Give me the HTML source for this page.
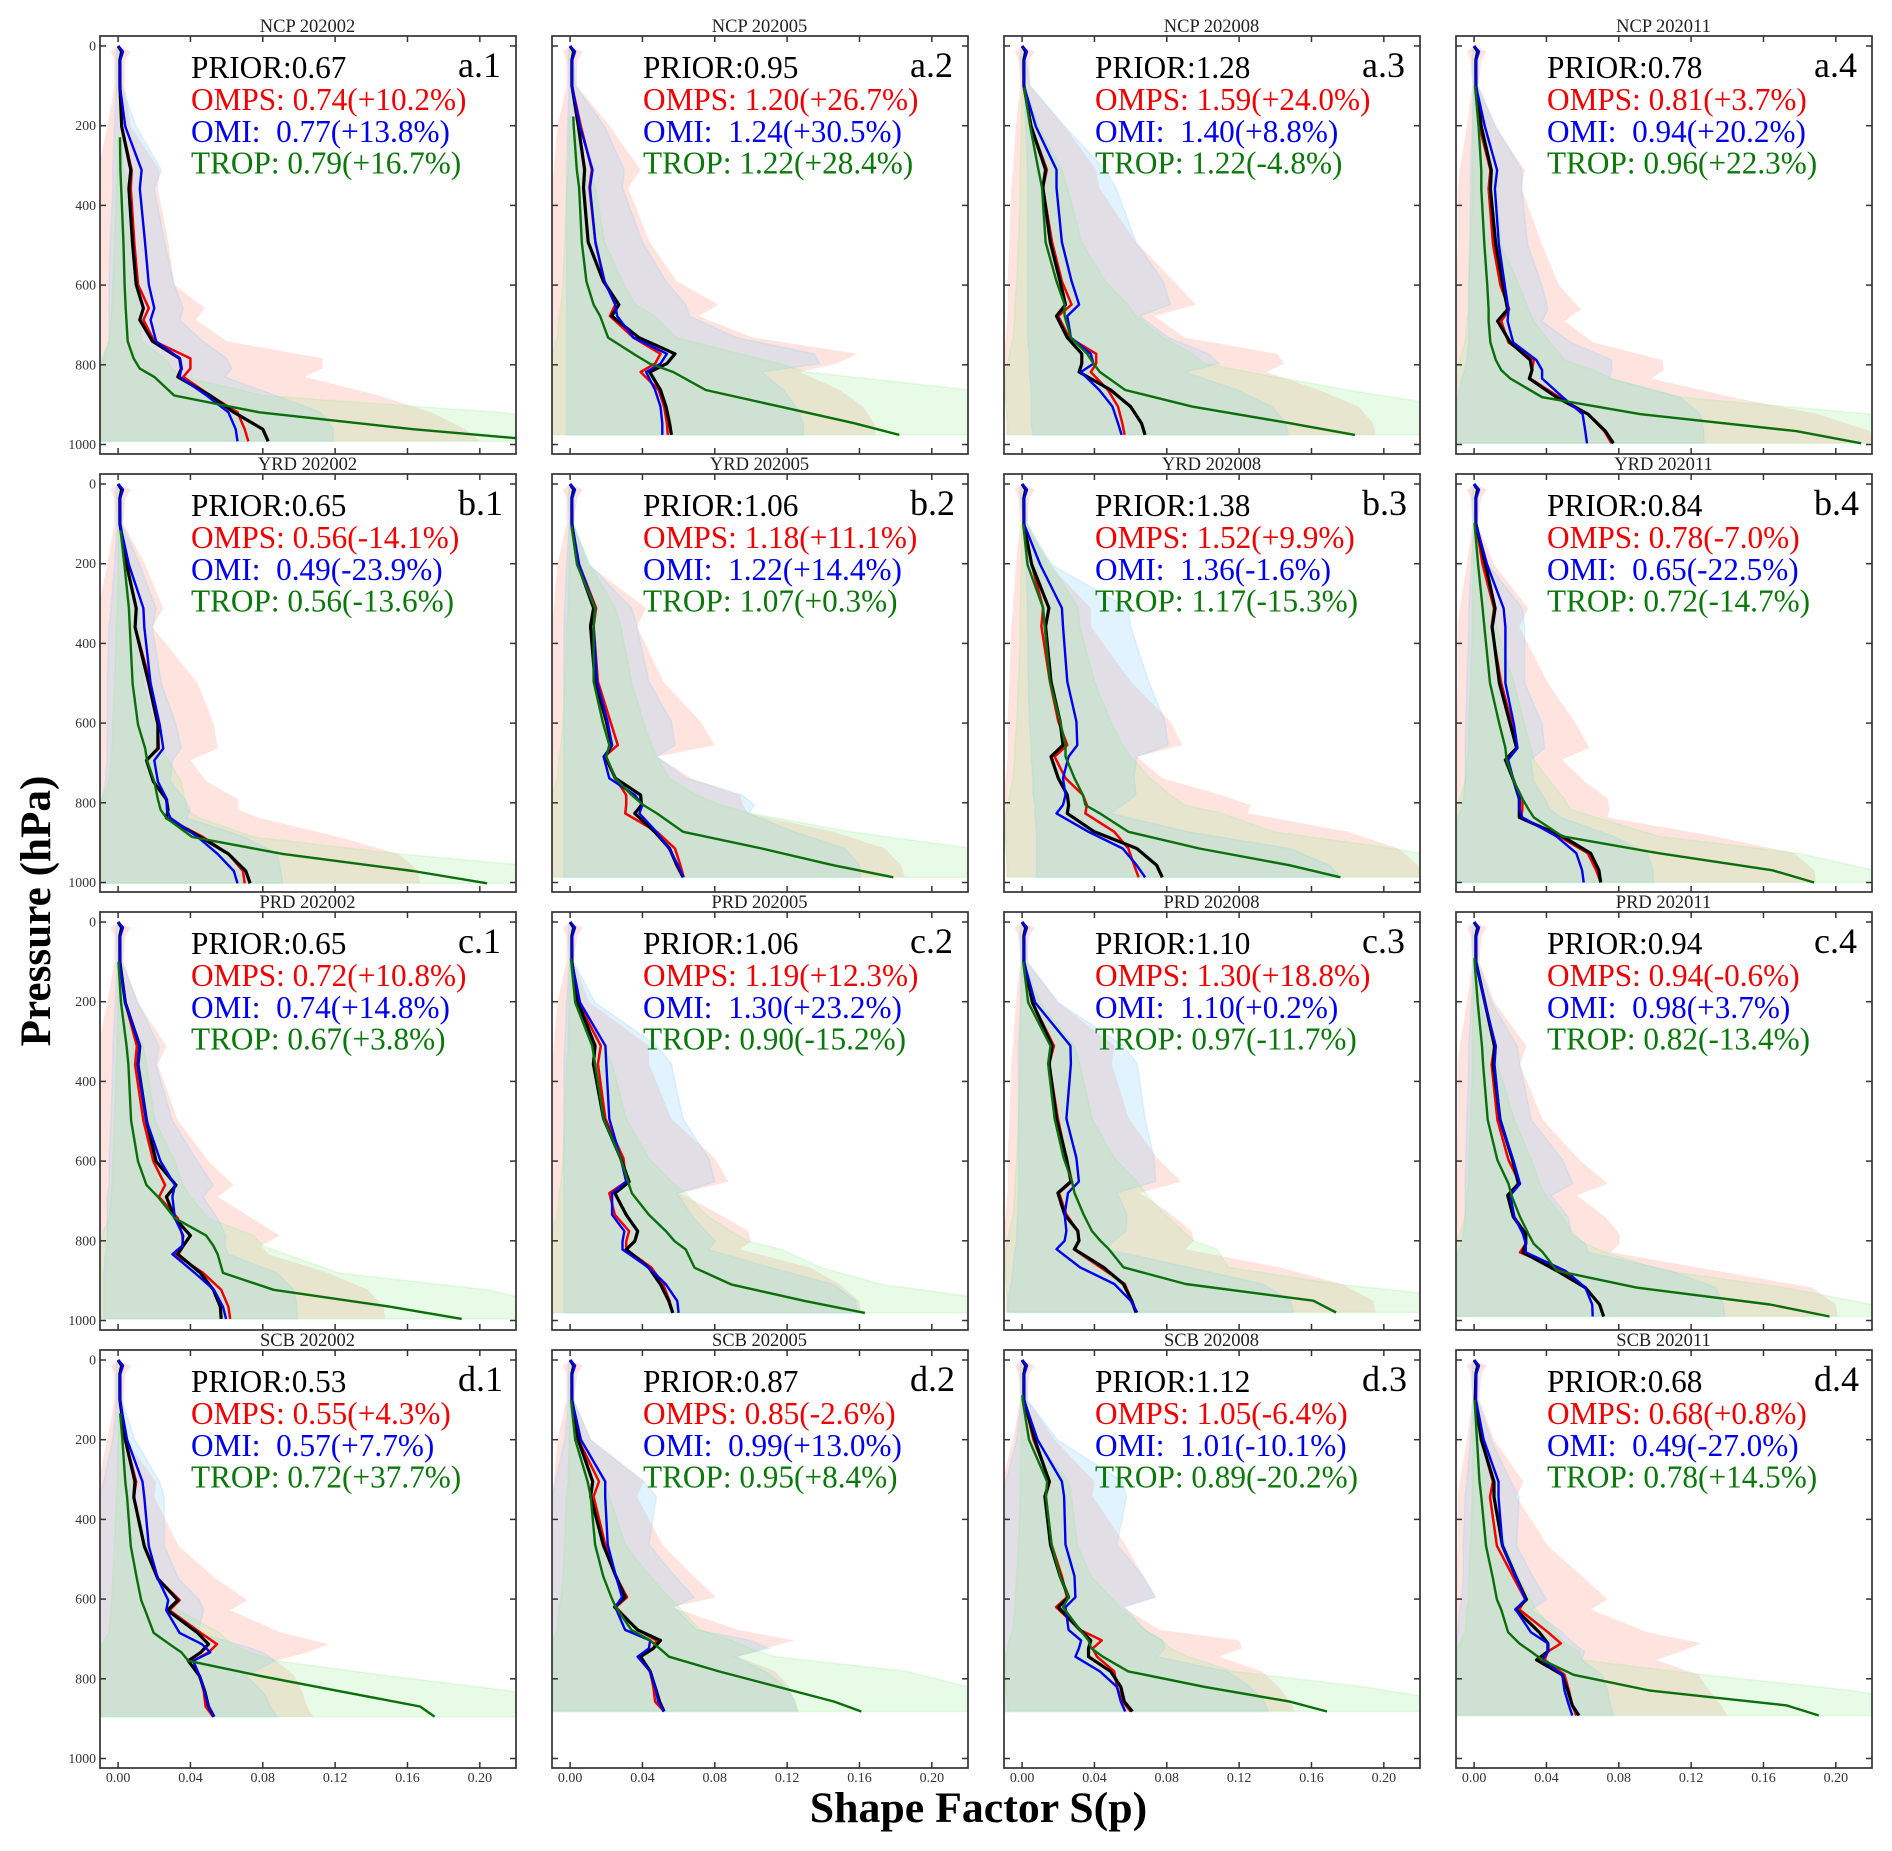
<!DOCTYPE html>
<html lang="en">
<head>
<meta charset="utf-8">
<title>Shape Factor Profiles</title>
<style>
html,body{margin:0;padding:0;background:#fff;}
body{width:1892px;height:1851px;overflow:hidden;}
svg{display:block;}
text{font-family:"Liberation Serif",serif;white-space:pre;}
</style>
</head>
<body>
<svg id="chart" xmlns="http://www.w3.org/2000/svg" width="1892" height="1851" viewBox="0 0 1892 1851">
<text transform="translate(50,911) rotate(-90)" text-anchor="middle" font-size="43.2" font-weight="700" fill="#000">Pressure (hPa)</text>
<text x="978.5" y="1822" text-anchor="middle" font-size="43.8" font-weight="700" fill="#000">Shape Factor S(p)</text>
</svg>
<script>
// Panel descriptors (rows a-d, columns 1-4)
const regions = ["NCP","YRD","PRD","SCB"];
const rowLetters = ["a","b","c","d"];
const months = ["202002","202005","202008","202011"];
const priorLabels = ["0.67","0.95","1.28","0.78","0.65","1.06","1.38","0.84","0.65","1.06","1.10","0.94","0.53","0.87","1.12","0.68"];
const ompsLabels = ["0.74(+10.2%)","1.20(+26.7%)","1.59(+24.0%)","0.81(+3.7%)","0.56(-14.1%)","1.18(+11.1%)","1.52(+9.9%)","0.78(-7.0%)","0.72(+10.8%)","1.19(+12.3%)","1.30(+18.8%)","0.94(-0.6%)","0.55(+4.3%)","0.85(-2.6%)","1.05(-6.4%)","0.68(+0.8%)"];
const omiLabels = ["0.77(+13.8%)","1.24(+30.5%)","1.40(+8.8%)","0.94(+20.2%)","0.49(-23.9%)","1.22(+14.4%)","1.36(-1.6%)","0.65(-22.5%)","0.74(+14.8%)","1.30(+23.2%)","1.10(+0.2%)","0.98(+3.7%)","0.57(+7.7%)","0.99(+13.0%)","1.01(-10.1%)","0.49(-27.0%)"];
const tropLabels = ["0.79(+16.7%)","1.22(+28.4%)","1.22(-4.8%)","0.96(+22.3%)","0.56(-13.6%)","1.07(+0.3%)","1.17(-15.3%)","0.72(-14.7%)","0.67(+3.8%)","0.90(-15.2%)","0.97(-11.7%)","0.82(-13.4%)","0.72(+37.7%)","0.95(+8.4%)","0.89(-20.2%)","0.78(+14.5%)"];

// Axis ticks
const xTicks = [0,0.04,0.08,0.12,0.16,0.20];
const xTickLabels = ["0.00","0.04","0.08","0.12","0.16","0.20"];
const yTicks = [0,200,400,600,800,1000];

// Hybrid vertical levels: p = hybridA + hybridB * surface pressure
const hybridA = [0,14,35,100,182.3,251.9,219,189.7,92.7,92.6,82.1,165.7,59.9,35.7,56.7,14,26.5,19.3,0];
const hybridB = [0,0,0,0,.02,.06,.14,.31,.51,.57,.61,.58,.73,.78,.78,.87,.90,.95,1];
const surfacePressure = [992,976,976,997,1002,987,987,1000,996,981,980,990,895,882,882,892];
const tropTop = [229,177,104,100,117,104,100,98,100,92,100,90,134,100,88,100];

// Values in units of 0.001, first three levels shared
const topLine = [0,2,1];
const topLineBlue = [0,2.7,1.2];
const topRedUp = [0,7,4];
const topRedLow = [0,-4,-2];
const topBlueUp = [0,3,2];
const topBlueLow = [0,-1,-1];

const blackProfiles = [
[1,2,7,6,8,10,14,12,19,34,35,33,51,64,80,83],
[1,4.6,8,7.4,10,18.4,27,23,38,58,53.5,44,50,53,55,56],
[1,5,13,11.5,15.6,21,24,19,25,33,33,31.5,49,60,66,68],
[1,4,9.5,9,12,16,18.5,13,20,31,32,30.5,45.5,63,72.6,77],
[1,4.7,10,9.4,17,22,22,15.7,19.5,26.7,27.6,26.7,45.5,61,70.6,73],
[1,4.4,13,11.3,13.8,20,23,19.5,25,39,39.5,35.8,46.8,55,59,62.5],
[1,5.3,14.8,13,16,21,22.6,16,20,25,25.7,25,40,63.4,74.4,77.5],
[1,6.3,11.6,10,14,20,23.5,17.3,22,25,25,25,48.7,64.4,69,70],
[1,4,12,11,15.7,21,32,26.7,31.4,40,36,33,45.5,52.7,56.5,57],
[1,4.4,13.8,12.9,18.5,28,32.6,24.8,31,37.4,35.8,31,43.6,50,54.6,56.8],
[1,5.7,16.6,15,19,24.5,27,19.8,23.5,30.8,31.4,29,45,56,60.6,63],
[1,6,11.3,10.7,14.4,21.3,24.5,18.5,21.7,28.6,28.6,27,45.8,61.5,69.4,71.6],
[1,4,9.3,8.7,14.5,22,33,27.3,44,50,45.7,38.8,45,48,50,53],
[1,4.5,12.5,11.4,18.3,25.3,30.4,24.6,37.4,50,46,39,44.3,47,49.5,52],
[1,7,15,12.6,15.7,21,25.7,20,32,38,36.7,36.7,49,54.6,56.5,61],
[.6,4,11,11,15.7,23.5,29,23,36,40.8,40.8,34.5,48.7,51.8,54.3,58]
];
const redProfiles = [
[1,2,7.5,7,9,11,17,14,20,40,40,36,51,66,70,72],
[1,6,12,10.7,14,19,25,22,35,50,47,39,49,52,53.5,54],
[1,5,13.7,11.5,16.6,22,27.4,20,26,41,41,38,47.5,53,55.4,56.7],
[1,3,9,8,10.5,14.6,19.4,15,19,33,32,31,47,63,72,76],
[1,4.7,10,9.4,18,22,22.5,15.7,19.5,26.7,27.6,26.7,47,61,69,70],
[1,5,14.4,13,15.4,22.3,26.4,19,25,31,31,30.5,48,58,61,62.8],
[1,5.3,11.6,10.7,15.4,20,25,18,24,33.6,35.8,35,51,58.7,62,64.4],
[1,4.7,11,9.7,15,21,23.5,17.3,22,26.7,26.7,26,47,62.8,67.5,70],
[1,4,10.4,9.4,14,19.5,26,22.6,33,35.5,36,31.4,47,57,61,62],
[1,4.4,17,15.4,19.5,29.5,31,21.7,24.8,32.6,31,31,45,51.5,55,56.8],
[1,5.7,17.6,15,19.8,24.5,27.6,20.4,24.5,30.8,31.7,28.6,43.3,56.8,60.6,63],
[1,6,11.3,9.7,12.9,19,25.4,19,22.3,28.6,28.6,25.4,49,61.5,69.4,71.6],
[1,4,10,8.7,14.5,22,34,28.4,45.7,54.7,50,41.5,45,47.4,48.4,52.6],
[1,4.5,16,13,19.4,25.3,31.5,25.3,37.4,47.8,46,37.4,44.3,46,47,52],
[1,6.3,15.4,13,16.3,22,24.8,18.8,32,44,39,41.4,50.9,52.4,55.6,60],
[1,4,10.4,8.8,12.6,22,28.3,25,40.8,48,40.8,39,50,52.4,54.3,56.5]
];
const blueProfiles = [
[1,4,13,12,15,17,20,18,21,34,35,34,49,61,65,66],
[1,5.5,12.4,11,14,19,25,26,35,53.5,50,42,47,50,51,51],
[1,7.6,19,19,22,27.4,31.5,25,27,38,39.5,32.5,42.7,50,53,55],
[1,6,12.7,11.5,13.7,17,19,18.5,21.6,34.4,37.6,37.6,49,60,61.5,62.4],
[1,6,14,14.5,18,23,25,20,22,27,27,29,44,55,64,66],
[1,5,13.8,13,14.8,20.7,23.2,18.5,21.7,35.8,40,38.3,47.7,54.6,59.7,62.5],
[1,10,22,22.6,25,30,30.5,25.7,22.6,24,22.6,19,36.7,55.6,63.4,68],
[1,7.2,16.3,17.3,17.3,22,24,18.8,22,25,25,26.7,45.5,56.5,59.7,60.6],
[1,4,12,11,15.7,23.5,31.4,30,31.4,36,35.5,30,42.4,53,58,59.7],
[1,5.5,19.5,20,21.7,28,31,23.2,23.2,30,29,29,43.6,53,59.3,60],
[1,7.2,26.7,27,24.5,30,31.4,25.4,23.5,24.5,23.5,19,32,51,60,63.7],
[1,6,12,11.3,14.4,21.7,25.4,20,22.3,27,28.6,28.6,50.5,61.5,65.3,65.6],
[1,5,13.5,14.5,17,22,27.7,26.6,34,46.4,50.9,41.5,45,47.8,50,53],
[1,6,19.4,19.4,20.8,25.3,28.7,25,30.4,44.3,43.6,37.4,44.3,47,48.7,52],
[1,8.5,22,23.2,24,29,29.5,24,25.7,32.6,31.4,29.5,43,52.4,54.6,57],
[1,5.3,13.5,13.5,15.7,23.5,28.3,23,31.4,40.8,40.8,37.7,48.7,50,52.4,54.3]
];
const greenProfiles = [
[1,1,1.3,1.7,3,3.6,4.2,4.6,5.3,8.6,12,20,31,78,163,240],
[1,2,3.7,5,6.5,9,13,16.6,21,35,44,57,75,116,157,182],
[1,4.5,9,11,13,19,23.5,23.5,27,36,39.5,43,57,94,148,184],
[.5,2.5,4,4,5.7,7.3,8,8,9,12,15,20,37.6,91.7,178,214],
[1,3.5,6,6.5,8,11,15,16,20,22,23.5,26.7,41,91,163,204],
[.6,3.8,13.8,13,13,18,21.7,20,25,34,40.5,48,62.5,106,145.7,178.7],
[.6,3,11.6,12.5,15.4,21,24,24,29,33.6,35,43,58.7,98,148,176],
[.3,2.2,4.7,5.7,8.8,14,17.3,18,22,26.7,30,33,48.7,102,165,188],
[.2,1.6,4.7,5.7,7.2,11,15.7,22,31.4,48.7,52.7,55,58,86,150.7,190],
[.6,2.8,12.2,13.8,18.5,28,32,34.2,43.6,53,57.8,64,68.8,89,130,163],
[.6,3.4,15.7,14.4,18,23,27.6,29,34,38.6,43.3,48,56,90.4,161,173.6],
[.3,2,4.4,5,7.5,12.9,19,20.7,25.4,30,33,38,45.8,89.8,163.6,196.5],
[.5,2.4,4,5,7,10.4,12.8,15,19.7,28.4,35,38.8,78.5,123.5,167,175],
[.5,2.8,9.7,11.4,13.8,18.3,22.8,25.2,33.9,44.3,49.5,54.7,82.3,115,146,161],
[.3,3.8,13.8,13.2,16.3,21,25.7,22.6,32,36.7,38.3,44.6,58.7,101,148,168.6],
[.3,1.6,3,4,6.6,10.4,12.6,15,18.8,25,31.4,37.7,55,97,172.7,190.6]
];
const redUpper = [
[3.6,7,23,22,28,31,48,43,60,113,113,103,144,173,192,200],
[3.7,22,39,32,44,59,82,71,101,159,147,127,149,162,168,169],
[4.5,23.5,41,42.7,63,84,96,73,90,141,145,135,164,186,194,195.5],
[2.5,12,28,26.4,37.6,47,59,50,66,104,105,98,142.7,190,219,220],
[3,15,25,19,44,53,55,40,49,66.5,66.5,78,122,155,166,167],
[2,10,42,37,51.5,72,80,48,67,94,95.5,98.6,145.7,174,183,185],
[3,14.8,38,38,60,82,88.5,63.4,77.5,110,126,125,180,208,219,220],
[2,11,30,25,40.8,56.5,63.7,48.7,61,73.8,75,73.8,133,177,188,189],
[3,11,26.7,22,33,50,64,55,74,89.5,79,83,116,138,147,147.5],
[2,10.7,43.6,43.6,56,80,87.6,61,83,98.6,100,94,133,149,160,161],
[3,20,51,49.6,59,74.7,88,65,82.6,93.6,95,90.4,142,176.8,194,195.6],
[3,11.3,29,25.4,38,58.4,74,56.8,72.5,80.4,80.4,75.6,133.8,187,200,201],
[3,4,21,20,33.5,54,71.6,62,90.6,116.6,104.5,87.2,97.6,101.7,104.5,108],
[2,11.4,40.8,37,51,68.5,80.6,56.4,92.7,123.9,108,92.7,113.5,121,124,126.6],
[3,18,40,39,57,67,73.8,55.6,76,120,121.6,109,132.5,142,148,151],
[3,11,27.3,23.5,40.8,61,73.8,64.4,95.8,125.6,114.6,100.5,124,130,136.6,140]
];
const blueUpper = [
[2,10,24,20,26,31,36,34,47,60,63,59,87,112,119,119],
[3,19,30,29,40,53,64,66,92,135,138,106,118,125,129,129],
[4.5,23.5,46,52,63,78,82,65,81,103,109,90,119,138,146,147],
[2,12,26.4,26.4,29.6,37.6,40.8,37.6,53.5,76,76,75,114,125,127,127],
[2,12,21,19,24,32,35,30,29,37,40,38,70,88,90,91],
[2,10.7,34,37,43.6,56,58,48,64,95,102,98.6,124,152,160,160.4],
[3,16,58.7,60,70,79,80.7,63.4,62,63,55.6,49,91.7,148,170,176],
[1,7.8,26.7,28,28,37.7,39,31.4,33,39,42,48,77,95.8,99,99],
[2,11,22.6,21,30,44,52.7,47,55,59.7,59,61,88,97,99,99],
[2,13.8,48,56,62.5,76.6,80,59.3,67,75,80.4,76.6,111,145.7,158,159],
[3,20,56,63.7,68,73,73.8,52.7,58,57.5,51,46.5,92,133,148.5,150],
[2,9.7,23.9,25.4,31.7,49,54.6,42.7,52,53.7,61.5,63,108.6,133.8,137.8,138.5],
[2,9.3,23,25.6,25.6,33.5,45,47.4,44,66.4,80,87,70.6,80,84.4,88],
[2,11.4,40.8,47.8,43.6,58,68.5,57.4,70,99.6,110,91,108,118.7,124.6,125.6],
[3,19.5,55.6,57.8,52.4,67,73.8,56.5,68,77.5,79,74.4,113.7,126,134,136],
[2,9.4,20.4,25,23.5,33,40,31.4,48.7,55,61,59.7,70.6,73.8,75.4,77]
];
const greenUpper = [
[1,1,3,6,8,10,11,12,13,26,30,37,80,210,300,300],
[.6,2,9,14,19,29,36,47,59,94,116,131,221,300,300,300],
[1.9,9,22,25,33,46,58.6,63,78,94,101,125,180,237,300,300],
[1,6,10.5,12,15,25,30,33,42,50,66,76,114,219,273,273],
[1,6,11,12,14,20,24,28,35,37,38,45,75,155,260,260],
[1,10.7,25,28,34,40.5,45,48,54.6,70,83,100,155,223,260,260],
[1,16,31,32,40,49,55.6,60,71,82,90,110.5,139,205,260,260],
[1,3,11,12.5,22,28,31.4,33,42,50,53,67.5,102,179,221,260],
[1,3,14,15.7,20.4,31.4,36,40,50,75,80,92.6,122,204,245,260],
[1,4.4,18.5,23.2,31,43.6,56,64,75,89,98.6,117,139,172,240,260],
[1,10,29,32,38.6,51,63.7,68,79,88.8,95,107.7,114,173.6,260,260],
[1,3.5,10.7,13,22.3,31.7,36.4,39.6,49,55,61.5,72.5,105.5,171.4,220,260],
[1,2,7.6,9.3,16,21.5,28,33.5,56,63,73,87,149.5,220,260,260],
[1,4.5,18.3,21.8,30.4,44.3,54.7,60,72,89.3,99.6,113.5,186,220,260,260],
[1,7,25.7,27.3,30.5,38,49,54,68,77.5,82,91.7,116.8,189,240,260],
[1,4.7,11,12.6,17.3,25,31.4,34.5,45.5,50,58,59.7,127,208.8,260,260]
];

// Lower bounds: red and green per season column, with an SCB August override; blue per panel
const redLower = [
[-2,-6,-11,-11,-11,-11,-11,-11,-11,-11,-11,-11,-11,-11,-11,-11],
[-2,-7,-9,-10,-11,-11,-11,-11,-11,-11,-11,-11,-11,-11,-11,-11],
[-1,-3.5,-5,-6,-7,-8,-8,-8,-9,-10,-10,-10,-10,-9,-9,-9],
[-1,-4,-8,-9,-9,-10,-10,-10,-10,-11,-11,-11,-11,-11,-11,-11]
];
const redLowerScbAug = [-1,-5,-11,-11,-11,-11,-11,-11,-11,-11,-11,-11,-11,-11,-11,-11];
const blueLower = [
[-1,-2,-3,-3,-4.4,-5,-5,-5,-5,-8,-11,-11,-11,-11,-11,-11],
[-.5,-1.5,-2,-2,-2,-2,-2,-2,-2,-2,-2,-2,-2,-2,-2,-2],
[1,2,3,3,3,3,3,3,3,4,4,4,5,5,5,6],
[-.5,-1,-2,-2,-2.5,-3,-3,-3,-3,-4,-5,-7,-9,-11,-11,-11],
[-.5,-2,-4,-5,-6,-6,-6,-6,-7,-9,-11,-11,-11,-11,-11,-11],
[-.5,-2,-3,-3.5,-3.5,-3.5,-3.5,-3.5,-3.5,-3.5,-3.5,-3.5,-3.5,-3.5,-3.5,-3.5],
[1,2,3,3,3.5,4,5,5,6,6,7,7,8,8,8,8],
[-.5,-1.5,-3,-3,-4,-4.7,-5,-5,-5,-6,-7,-9,-11,-11,-11,-11],
[-.5,-1.5,-3,-3,-4,-5,-5,-6,-6,-6,-6.5,-7,-8,-8,-8,-8],
[-.5,-2,-3,-3.5,-3.5,-3.5,-3.5,-3.5,-3.5,-3.5,-3.5,-3.5,-3.5,-3.5,-3.5,-3.5],
[-.5,-1,-2,-2,-2,-2,-2,-2,-2.5,-3,-3,-4,-5,-6,-8,-8],
[-.5,-1.5,-3,-3,-4,-4.7,-5,-5,-5,-6,-7,-9,-11,-11,-11,-11],
[-1,-3,-8,-10,-11,-11,-11,-11,-11,-11,-11,-11,-11,-11,-11,-11],
[-1,-3,-8,-10,-11,-11,-11,-11,-11,-11,-11,-11,-11,-11,-11,-11],
[-.5,-3,-9,-11,-11,-11,-11,-11,-11,-11,-11,-11,-11,-11,-11,-11],
[-.5,-2,-4,-5,-6,-6,-7,-8,-9,-10,-11,-11,-11,-11,-11,-11]
];
const greenLower = [
[0,0,-.5,-1,-2,-3,-3.5,-4,-5,-9,-11,-11,-11,-11,-11,-11],
[0,-.5,-1,-2,-3,-4,-5,-6,-7,-10,-10.5,-11,-11,-11,-11,-11],
[0,-.5,-1,-1,-2,-3,-4,-4,-5,-7,-8,-9,-9,-9,-8,-8],
[0,-.5,-1,-1,-2,-3,-3,-4,-5,-8,-10,-11,-11,-11,-11,-11]
];

// Layout
const svgNS = "http://www.w3.org/2000/svg";
const chart = document.getElementById("chart");
const columnLefts = [100,552,1004,1456];
const rowTops = [36,474,912,1350];
const panelW = 416, panelH = 418;
function xScale(milli,left){return left+18.09+milli*1.8087;}
function yScale(p,top){return top+10+p*0.3985;}
function make(tag,attrs,parent){
  const el=document.createElementNS(svgNS,tag);
  for(const k in attrs){el.setAttribute(k,attrs[k]);}
  parent.appendChild(el);
  return el;
}
function pressures(ps){return hybridA.map((a,i)=>a+hybridB[i]*ps);}
function interp(p,ps,vals){
  for(let i=1;i<ps.length;i++){
    if(p<=ps[i]){const t=(p-ps[i-1])/(ps[i]-ps[i-1]);return vals[i-1]+t*(vals[i]-vals[i-1]);}
  }
  return vals[vals.length-1];
}
// Trim a profile so it starts at the given top pressure
function trimmed(ps,vals,topP){
  const outP=[topP],outV=[interp(topP,ps,vals)];
  ps.forEach((p,i)=>{if(p>topP){outP.push(p);outV.push(vals[i]);}});
  return {p:outP,v:outV};
}
function linePoints(ps,vals,left,top){
  return ps.map((p,i)=>xScale(vals[i],left).toFixed(1)+","+yScale(p,top).toFixed(1)).join(" ");
}
function bandPoints(ps,up,low,left,top){
  const a=ps.map((p,i)=>xScale(up[i],left).toFixed(1)+","+yScale(p,top).toFixed(1));
  const b=ps.map((p,i)=>xScale(low[i],left).toFixed(1)+","+yScale(p,top).toFixed(1)).reverse();
  return a.concat(b).join(" ");
}

rowTops.forEach((top,r)=>{
  columnLefts.forEach((left,c)=>{
    const idx=r*4+c;
    const tag=rowLetters[r]+"."+(c+1);
    const ps=pressures(surfacePressure[idx]);
    const panelRedLower=(idx===14)?redLowerScbAug:redLower[c];
    const g=make("g",{},chart);
    
    

    const clip=make("clipPath",{id:"clip-"+idx},g);
    make("rect",{x:left,y:top,width:panelW,height:panelH},clip);
    const plot=make("g",{"clip-path":"url(#clip-"+idx+")"},g);
    
    

    // shaded ranges
    const redBand=make("polygon",{
      points:bandPoints(ps,topRedUp.concat(redUpper[idx]),topRedLow.concat(panelRedLower),left,top),
      fill:"rgb(255,99,71)","fill-opacity":0.18,stroke:"none"},plot);
    
    
    const blueBand=make("polygon",{
      points:bandPoints(ps,topBlueUp.concat(blueUpper[idx]),topBlueLow.concat(blueLower[idx]),left,top),
      fill:"rgb(135,206,250)","fill-opacity":0.25,stroke:"rgb(135,206,250)","stroke-opacity":0.22,"stroke-width":1.5},plot);
    
    
    const gUp=trimmed(ps,[0,0,0].concat(greenUpper[idx]),tropTop[idx]);
    const gLow=trimmed(ps,[0,0,0].concat(greenLower[c]),tropTop[idx]);
    const greenBand=make("polygon",{
      points:bandPoints(gUp.p,gUp.v,gLow.v,left,top),
      fill:"rgb(144,238,144)","fill-opacity":0.22,stroke:"rgb(144,238,144)","stroke-opacity":0.22,"stroke-width":1.5},plot);
    
    

    // profile lines
    const redLine=make("polyline",{points:linePoints(ps,topLine.concat(redProfiles[idx]),left,top),
      fill:"none",stroke:"#f00000","stroke-width":2.5,"stroke-linejoin":"round"},plot);
    
    
    const blackLine=make("polyline",{points:linePoints(ps,topLine.concat(blackProfiles[idx]),left,top),
      fill:"none",stroke:"#000","stroke-width":3.2,"stroke-linejoin":"round"},plot);
    
    
    const blueLine=make("polyline",{points:linePoints(ps,topLineBlue.concat(blueProfiles[idx]),left,top),
      fill:"none",stroke:"#0000f0","stroke-width":2.4,"stroke-linejoin":"round"},plot);
    
    
    const gLine=trimmed(ps,[0,0,0].concat(greenProfiles[idx]),tropTop[idx]);
    const greenLine=make("polyline",{points:linePoints(gLine.p,gLine.v,left,top),
      fill:"none",stroke:"#0a6e0a","stroke-width":2.4,"stroke-linejoin":"round"},plot);
    
    

    // ticks
    xTicks.forEach((t,i)=>{
      const x=xScale(t*1000,left);
      const tb=make("line",{x1:x,x2:x,y1:top+panelH,y2:top+panelH-6,stroke:"#333","stroke-width":1.5},g);
      
      
      const tt=make("line",{x1:x,x2:x,y1:top,y2:top+6,stroke:"#333","stroke-width":1.5},g);
      
      
      if(r===rowTops.length-1){
        const lab=make("text",{x:x,y:top+panelH+14,"text-anchor":"middle","font-size":14,fill:"#333"},g);
        lab.textContent=xTickLabels[i];
        
        
      }
    });
    yTicks.forEach((t)=>{
      const y=yScale(t,top);
      const tl=make("line",{x1:left,x2:left+6,y1:y,y2:y,stroke:"#333","stroke-width":1.5},g);
      
      
      const tr=make("line",{x1:left+panelW,x2:left+panelW-6,y1:y,y2:y,stroke:"#333","stroke-width":1.5},g);
      
      
      if(c===0){
        const lab=make("text",{x:left-4,y:y+4.5,"text-anchor":"end","font-size":13.8,fill:"#333"},g);
        lab.textContent=String(t);
        
        
      }
    });

    // frame
    const frame=make("rect",{x:left,y:top,width:panelW,height:panelH,fill:"none",stroke:"#333","stroke-width":1.7},g);
    
    

    // title and annotations
    const title=make("text",{x:left+207.5,y:top-4,"text-anchor":"middle","font-size":18.5,fill:"#222"},g);
    title.textContent=regions[r]+" "+months[c];
    
    

    const prior=make("text",{x:left+91,y:top+42,"font-size":31.25,fill:"#000"},g);
    prior.textContent="PRIOR:"+priorLabels[idx];
    
    
    const omps=make("text",{x:left+91,y:top+74,"font-size":31.25,fill:"#f00000"},g);
    omps.textContent="OMPS: "+ompsLabels[idx];
    
    
    const omi=make("text",{x:left+91,y:top+106,"font-size":31.25,fill:"#0000f0"},g);
    omi.textContent="OMI:  "+omiLabels[idx];
    
    
    const trop=make("text",{x:left+91,y:top+137.5,"font-size":31.25,fill:"#0a780a"},g);
    trop.textContent="TROP: "+tropLabels[idx];
    
    

    const letter=make("text",{x:left+358,y:top+41,"font-size":36,fill:"#000"},g);
    letter.textContent=tag;
    
    
  });
});
</script>
</body>
</html>
